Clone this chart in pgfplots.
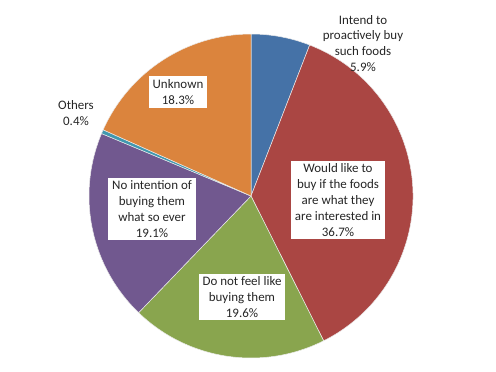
\documentclass[border=0pt]{standalone}
\usepackage{pgfplots}
\pgfplotsset{compat=1.18}
\usepackage{fontspec}
\setmainfont{Carlito}
\definecolor{cBlue}{HTML}{4572A7}
\definecolor{cRed}{HTML}{AA4643}
\definecolor{cGreen}{HTML}{89A54E}
\definecolor{cPurple}{HTML}{71588F}
\definecolor{cTeal}{HTML}{4198AF}
\definecolor{cOrange}{HTML}{DB843D}
\begin{document}
\begin{tikzpicture}
\begin{axis}[
  width=496bp, height=369bp, scale only axis,
  xmin=0, xmax=496, ymin=0, ymax=369,
  axis lines=none, clip=false,
]
\addplot[draw=none, forget plot] coordinates {(0,0) (496,369)};
\pgfplotsextra{
  \gdef\curang{90}
  \foreach \v/\c in {5.9/cBlue, 36.7/cRed, 19.6/cGreen, 19.1/cPurple, 0.4/cTeal, 18.3/cOrange}{
    \pgfmathsetmacro\nextang{\curang-3.6*\v}
    \fill[\c, draw=white!85!gray, line width=0.5pt, line join=round]
      (axis cs:251,173) -- ++(\curang:162bp)
      arc[start angle=\curang, end angle=\nextang, radius=162bp] -- cycle;
    \global\let\curang\nextang
  }
}
\tikzset{lbl/.style={align=center, font=\fontsize{13}{16}\selectfont, text=black!85, inner xsep=4bp, inner ysep=3bp}}
\node[lbl] at (axis cs:363,325.5) {Intend to\\proactively buy\\such foods\\5.9\%};
\node[lbl, fill=white] at (axis cs:338,169) {Would like to\\buy if the foods\\are what they\\are interested in\\36.7\%};
\node[lbl, fill=white] at (axis cs:242,72) {Do not feel like\\buying them\\19.6\%};
\node[lbl, fill=white] at (axis cs:152,160) {No intention of\\buying them\\what so ever\\19.1\%};
\node[lbl, fill=white] at (axis cs:178,277) {Unknown\\18.3\%};
\node[lbl] at (axis cs:76,256) {Others\\0.4\%};
\end{axis}
\end{tikzpicture}
\end{document}
